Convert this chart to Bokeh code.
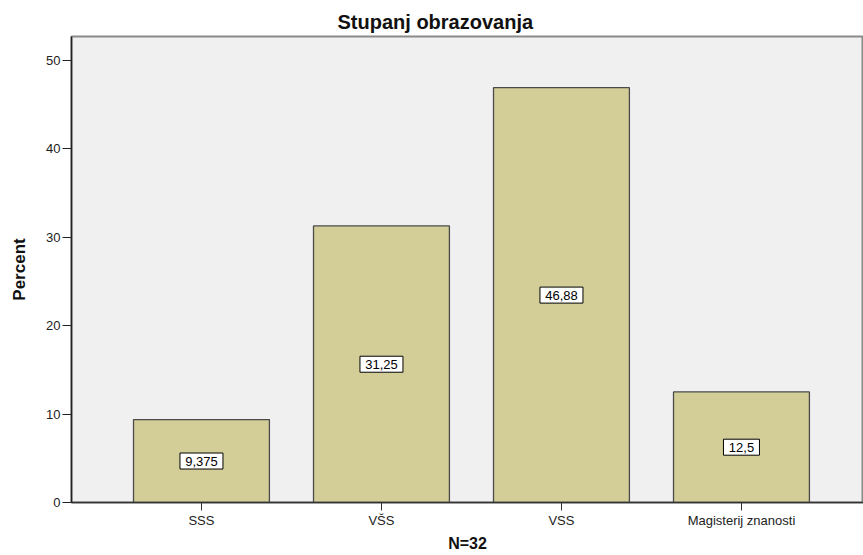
from bokeh.plotting import figure
from bokeh.models import ColumnDataSource, Range1d, FixedTicker
from bokeh.core.properties import value
from bokeh.embed import file_html
from bokeh.resources import INLINE

# Data
categories = ["SSS", "VŠS", "VSS", "Magisterij znanosti"]
percent = [9.375, 31.25, 46.875, 12.5]
value_labels = ["9,375", "31,25", "46,88", "12,5"]
y_ticks = [0, 10, 20, 30, 40, 50]
title_text = "Stupanj obrazovanja"
x_label = "N=32"
y_label = "Percent"

xs = [i + 1 for i in range(len(categories))]
src = ColumnDataSource(dict(
    x=xs,
    top=percent,
    mid=[v / 2 for v in percent],
    lbl=value_labels,
    boxw=[7 * len(s) + 8 for s in value_labels],
))

FONT = "Liberation Sans"

p = figure(
    width=863, height=555,
    x_range=Range1d(0.278, 4.678),
    y_range=Range1d(0, 52.66),
    output_backend="svg", toolbar_location=None,
    min_border_left=71, min_border_right=0, min_border_top=36, min_border_bottom=53,
)
p.background_fill_color = "#f0f0f0"
p.border_fill_color = "white"
p.outline_line_color = "#8a8a8a"
p.outline_line_width = 2
p.grid.visible = False

p.title.text = title_text
p.title.text_font = FONT
p.title.text_font_size = "20px"
p.title.text_font_style = "bold"
p.title.text_color = "#111111"
p.title.align = "left"
p.title.offset = 266
p.title.standoff = 7

p.vbar(x="x", top="top", width=0.755, source=src,
       fill_color="#d3ce98", line_color="#4a4a4a", line_width=1.3)

# value label boxes
p.rect(x="x", y="mid", width="boxw", height=16, width_units="screen",
       height_units="screen", source=src,
       fill_color="white", line_color="black", line_width=1)
p.text(x="x", y="mid", text="lbl", source=src,
       text_align="center", text_baseline="middle",
       text_font=value(FONT), text_font_size="13px", text_color="black")

# x axis
p.xaxis.ticker = FixedTicker(ticks=xs)
p.xaxis.major_label_overrides = {x: c for x, c in zip(xs, categories)}
p.xaxis.axis_label = x_label
p.xaxis.axis_label_text_font = FONT
p.xaxis.axis_label_text_font_size = "16px"
p.xaxis.axis_label_text_font_style = "bold"
p.xaxis.axis_label_text_color = "#111111"
p.xaxis.axis_label_standoff = 4
p.xaxis.major_label_text_font = FONT
p.xaxis.major_label_text_font_size = "13px"
p.xaxis.major_label_text_color = "#222222"
p.xaxis.major_label_standoff = 2
p.xaxis.major_tick_out = 8
p.xaxis.major_tick_in = 0
p.xaxis.minor_tick_line_color = None
p.xaxis.axis_line_color = "#333333"
p.xaxis.axis_line_width = 1.5
p.xaxis.major_tick_line_color = "#333333"

# y axis
p.yaxis.ticker = FixedTicker(ticks=y_ticks)
p.yaxis.axis_label = y_label
p.yaxis.axis_label_text_font = FONT
p.yaxis.axis_label_text_font_size = "17px"
p.yaxis.axis_label_text_font_style = "bold"
p.yaxis.axis_label_text_color = "#111111"
p.yaxis.axis_label_standoff = 14
p.yaxis.major_label_text_font = FONT
p.yaxis.major_label_text_font_size = "13px"
p.yaxis.major_label_text_color = "#222222"
p.yaxis.major_label_standoff = 2
p.yaxis.major_tick_out = 9
p.yaxis.major_tick_in = 0
p.yaxis.minor_tick_line_color = None
p.yaxis.axis_line_color = "#222222"
p.yaxis.axis_line_width = 1.5
p.yaxis.major_tick_line_color = "#222222"

open("out.html", "w").write(file_html(p, INLINE))
